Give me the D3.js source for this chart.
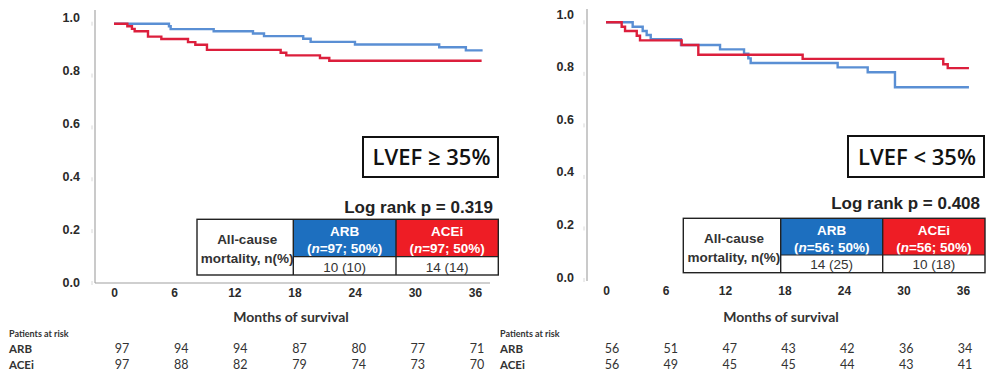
<!DOCTYPE html>
<html>
<head>
<meta charset="utf-8">
<script src="https://cdn.jsdelivr.net/npm/d3@7"></script>
<style>
  html, body { margin: 0; padding: 0; background: #fff; }
  svg { display: block; }
</style>
</head>
<body>
<svg id="chart" width="986" height="371"></svg>
<script>
// ---- Time axis and numbers at risk ----
const months = [0, 6, 12, 18, 24, 30, 36];
const yTicks = [0, 0.2, 0.4, 0.6, 0.8, 1.0];

const riskArbHigh  = [97, 94, 94, 87, 80, 77, 71];
const riskAceiHigh = [97, 88, 82, 79, 74, 73, 70];
const riskArbLow   = [56, 51, 47, 43, 42, 36, 34];
const riskAceiLow  = [56, 49, 45, 45, 44, 43, 41];

// ---- Kaplan-Meier steps, LVEF >= 35% ----
const arbHighTime = [0, 5.48, 5.65, 9.94, 13.86, 14.96, 18.87, 19.61, 24.03, 32.43, 35.09, 36.76];
const arbHighSurv = [1.0, 0.990, 0.979, 0.971, 0.962, 0.952, 0.942, 0.930, 0.920, 0.909, 0.897, 0.897];
const aceiHighTime = [0, 1.33, 1.79, 2.06, 3.39, 4.72, 7.38, 8.11, 9.27, 16.62, 17.18, 20.54, 21.47, 36.66];
const aceiHighSurv = [1.0, 0.990, 0.980, 0.971, 0.950, 0.941, 0.929, 0.919, 0.899, 0.888, 0.878, 0.868, 0.857, 0.857];

// ---- Kaplan-Meier steps, LVEF < 35% ----
const arbLowTime = [0, 2.69, 3.70, 4.10, 4.51, 7.56, 11.50, 13.92, 14.35, 14.59, 23.36, 26.39, 29.14, 36.6];
const arbLowSurv = [1.0, 0.983, 0.966, 0.951, 0.934, 0.912, 0.895, 0.878, 0.860, 0.842, 0.825, 0.806, 0.748, 0.748];
const aceiLowTime = [0, 1.58, 1.92, 3.10, 3.43, 7.63, 9.31, 19.83, 34.01, 34.46, 36.6];
const aceiLowSurv = [1.0, 0.983, 0.966, 0.948, 0.930, 0.912, 0.874, 0.858, 0.837, 0.822, 0.822];

// ---- Mortality summary tables ----
const groupNames = ["ARB", "ACEi"];
const nHigh = ["97", "97"];
const nLow = ["56", "56"];
const mortHigh = ["10 (10)", "14 (14)"];
const mortLow = ["14 (25)", "10 (18)"];
const subgroupTitles = ["LVEF \u2265 35%", "LVEF < 35%"];
const logRankP = ["0.319", "0.408"];

const BLUE_LINE = "#5a8fd4";
const RED_LINE = "#dc1f3c";
const BLUE_FILL = "#1d6fbf";
const RED_FILL = "#ee1d25";
const TXT = "#333";

const svg = d3.select("#chart");

const panels = [
  {
    xRange: [114, 475], yRange: [283, 23.7], yLabRange: [282, 17], yLabX: 80,
    axisX: 95, axisTop: 10, axisBottom: 283, bottomLine: [95, 490],
    xLabY: 298, titleX: 291, riskRange: [122, 477], riskLabX: 9,
    arb: [arbHighTime, arbHighSurv], acei: [aceiHighTime, aceiHighSurv],
    risk: [riskArbHigh, riskAceiHigh],
    box: [363, 137, 135, 40], title: subgroupTitles[0],
    pX: 493, pY: 213, p: logRankP[0],
    table: { x: [197, 293.3, 396, 498.3], y: [219.3, 256.7, 275] },
    n: nHigh, mort: mortHigh
  },
  {
    xRange: [606, 963], yRange: [280, 22.3], yLabRange: [277, 14], yLabX: 574,
    axisX: 587, axisTop: 9, axisBottom: 281, bottomLine: null,
    xLabY: 296, titleX: 781, riskRange: [612, 965], riskLabX: 500,
    arb: [arbLowTime, arbLowSurv], acei: [aceiLowTime, aceiLowSurv],
    risk: [riskArbLow, riskAceiLow],
    box: [848, 136, 136, 41], title: subgroupTitles[1],
    pX: 980, pY: 209, p: logRankP[1],
    table: { x: [683.3, 780.7, 882.7, 985], y: [218.3, 255, 272.7] },
    n: nLow, mort: mortLow
  }
];

panels.forEach(P => {
  const g = svg.append("g");
  const x = d3.scaleLinear().domain([0, 36]).range(P.xRange);
  const y = d3.scaleLinear().domain([0, 1]).range(P.yRange);
  const yLab = d3.scaleLinear().domain([0, 1]).range(P.yLabRange);
  const xRisk = d3.scaleLinear().domain([0, 36]).range(P.riskRange);

  // y axis line
  g.append("line")
    .attr("x1", P.axisX).attr("x2", P.axisX)
    .attr("y1", P.axisTop).attr("y2", P.axisBottom)
    .attr("stroke", "#b4b4b4").attr("stroke-width", 1.4);
  if (P.bottomLine) {
    g.append("line")
      .attr("x1", P.bottomLine[0]).attr("x2", P.bottomLine[1])
      .attr("y1", P.axisBottom).attr("y2", P.axisBottom)
      .attr("stroke", "#a0a0a0").attr("stroke-width", 1.2);
  }
  // faint minor tick marks on the y axis
  g.selectAll(".ytk").data(yTicks).enter().append("line")
    .attr("x1", P.axisX - 3).attr("x2", P.axisX - 3)
    .attr("y1", d => y(d) - 2).attr("y2", d => y(d) + 2)
    .attr("stroke", "#d8d8d8").attr("stroke-width", 1);

  // y tick labels
  const yAxis = d3.axisLeft(yLab).tickValues(yTicks).tickSize(0).tickPadding(0)
    .tickFormat(d3.format(".1f"));
  const ya = g.append("g").attr("transform", `translate(${P.yLabX},0)`).call(yAxis);
  ya.select(".domain").remove();
  ya.selectAll("text")
    .attr("font-family", "'Liberation Sans', Arial, sans-serif")
    .attr("font-weight", "bold").attr("font-size", 12.5).attr("fill", "#2a2a2a");

  // x tick labels
  const xAxis = d3.axisBottom(x).tickValues(months).tickSize(0).tickPadding(0);
  const xa = g.append("g").attr("transform", `translate(0,${P.xLabY - 10})`).call(xAxis);
  xa.select(".domain").remove();
  xa.selectAll("text")
    .attr("font-family", "'Liberation Sans Narrow', 'Arial Narrow', sans-serif")
    .attr("font-weight", "bold").attr("font-size", 12).attr("fill", "#2a2a2a")
    .attr("dy", "0.71em");

  // axis title
  g.append("text").attr("x", P.titleX).attr("y", 322)
    .attr("text-anchor", "middle")
    .attr("font-family", "Lato, 'Open Sans', sans-serif")
    .attr("font-weight", "bold").attr("font-size", 14).attr("fill", TXT)
    .text("Months of survival");

  // survival curves
  const line = d3.line().x(d => x(d[0])).y(d => y(d[1])).curve(d3.curveStepAfter);
  [[P.arb, BLUE_LINE], [P.acei, RED_LINE]].forEach(([series, color]) => {
    const pts = series[0].map((t, i) => [t, series[1][i]]);
    g.append("path").datum(pts)
      .attr("d", line).attr("fill", "none")
      .attr("stroke", color).attr("stroke-width", 2.4)
      .attr("stroke-linejoin", "miter");
  });

  // subgroup label box
  const [bx, by, bw, bh] = P.box;
  g.append("rect").attr("x", bx).attr("y", by).attr("width", bw).attr("height", bh)
    .attr("fill", "#fff").attr("stroke", "#111").attr("stroke-width", 2);
  g.append("text").attr("x", bx + bw / 2 + 1).attr("y", by + bh / 2 + 8)
    .attr("text-anchor", "middle")
    .attr("font-family", "'Open Sans', sans-serif")
    .attr("font-weight", 600).attr("font-size", 22).attr("fill", "#111")
    .text(P.title);

  // log rank
  g.append("text").attr("x", P.pX).attr("y", P.pY)
    .attr("text-anchor", "end")
    .attr("font-family", "'Liberation Sans', Arial, sans-serif")
    .attr("font-weight", "bold").attr("font-size", 17).attr("fill", "#222")
    .text("Log rank p = " + P.p);

  // mortality table
  const tx = P.table.x, ty = P.table.y;
  const fills = [BLUE_FILL, RED_FILL];
  const tfont = "'Liberation Sans', Arial, sans-serif";
  const tsize = 13.5;
  [0, 1].forEach(k => {
    g.append("rect").attr("x", tx[k + 1]).attr("y", ty[0])
      .attr("width", tx[k + 2] - tx[k + 1]).attr("height", ty[1] - ty[0])
      .attr("fill", fills[k]);
    const cx = (tx[k + 1] + tx[k + 2]) / 2;
    g.append("text").attr("x", cx).attr("y", ty[0] + 17)
      .attr("text-anchor", "middle").attr("font-family", tfont)
      .attr("font-weight", "bold").attr("font-size", tsize).attr("fill", "#fff")
      .text(groupNames[k]);
    const t2 = g.append("text").attr("x", cx).attr("y", ty[0] + 33.5)
      .attr("text-anchor", "middle").attr("font-family", tfont)
      .attr("font-weight", "bold").attr("font-size", tsize).attr("fill", "#fff");
    t2.append("tspan").text("(");
    t2.append("tspan").attr("font-style", "italic").text("n");
    t2.append("tspan").text("=" + P.n[k] + "; 50%)");
    g.append("text").attr("x", cx).attr("y", ty[2] - 3.5)
      .attr("text-anchor", "middle").attr("font-family", tfont)
      .attr("font-size", tsize).attr("fill", TXT)
      .text(P.mort[k]);
  });
  const fc = (tx[0] + tx[1]) / 2 + 2;
  g.append("text").attr("x", fc).attr("y", ty[0] + 25)
    .attr("text-anchor", "middle").attr("font-family", tfont)
    .attr("font-weight", "bold").attr("font-size", tsize).attr("fill", TXT)
    .text("All-cause");
  g.append("text").attr("x", fc).attr("y", ty[0] + 43.5)
    .attr("text-anchor", "middle").attr("font-family", tfont)
    .attr("font-weight", "bold").attr("font-size", tsize).attr("fill", TXT)
    .text("mortality, n(%)");
  const gridC = "#222";
  g.append("rect").attr("x", tx[0]).attr("y", ty[0])
    .attr("width", tx[3] - tx[0]).attr("height", ty[2] - ty[0])
    .attr("fill", "none").attr("stroke", gridC).attr("stroke-width", 1.4);
  [tx[1], tx[2]].forEach(vx => {
    g.append("line").attr("x1", vx).attr("x2", vx).attr("y1", ty[0]).attr("y2", ty[2])
      .attr("stroke", gridC).attr("stroke-width", 1.4);
  });
  g.append("line").attr("x1", tx[1]).attr("x2", tx[3]).attr("y1", ty[1]).attr("y2", ty[1])
    .attr("stroke", gridC).attr("stroke-width", 1.2);

  // numbers at risk
  const rf = "Lato, 'Open Sans', sans-serif";
  g.append("text").attr("x", P.riskLabX).attr("y", 337)
    .attr("font-family", rf).attr("font-weight", "bold").attr("font-size", 9)
    .attr("fill", TXT).text("Patients at risk");
  ["ARB", "ACEi"].forEach((lab, r) => {
    const ry = 353 + r * 16;
    g.append("text").attr("x", P.riskLabX).attr("y", ry)
      .attr("font-family", rf).attr("font-weight", "bold").attr("font-size", 11.5)
      .attr("fill", TXT).text(lab);
    g.selectAll(null).data(P.risk[r]).enter().append("text")
      .attr("x", (d, i) => xRisk(months[i])).attr("y", ry)
      .attr("text-anchor", "middle")
      .attr("font-family", rf).attr("font-size", 12.5).attr("fill", TXT)
      .text(d => d);
  });
});
</script>
</body>
</html>
